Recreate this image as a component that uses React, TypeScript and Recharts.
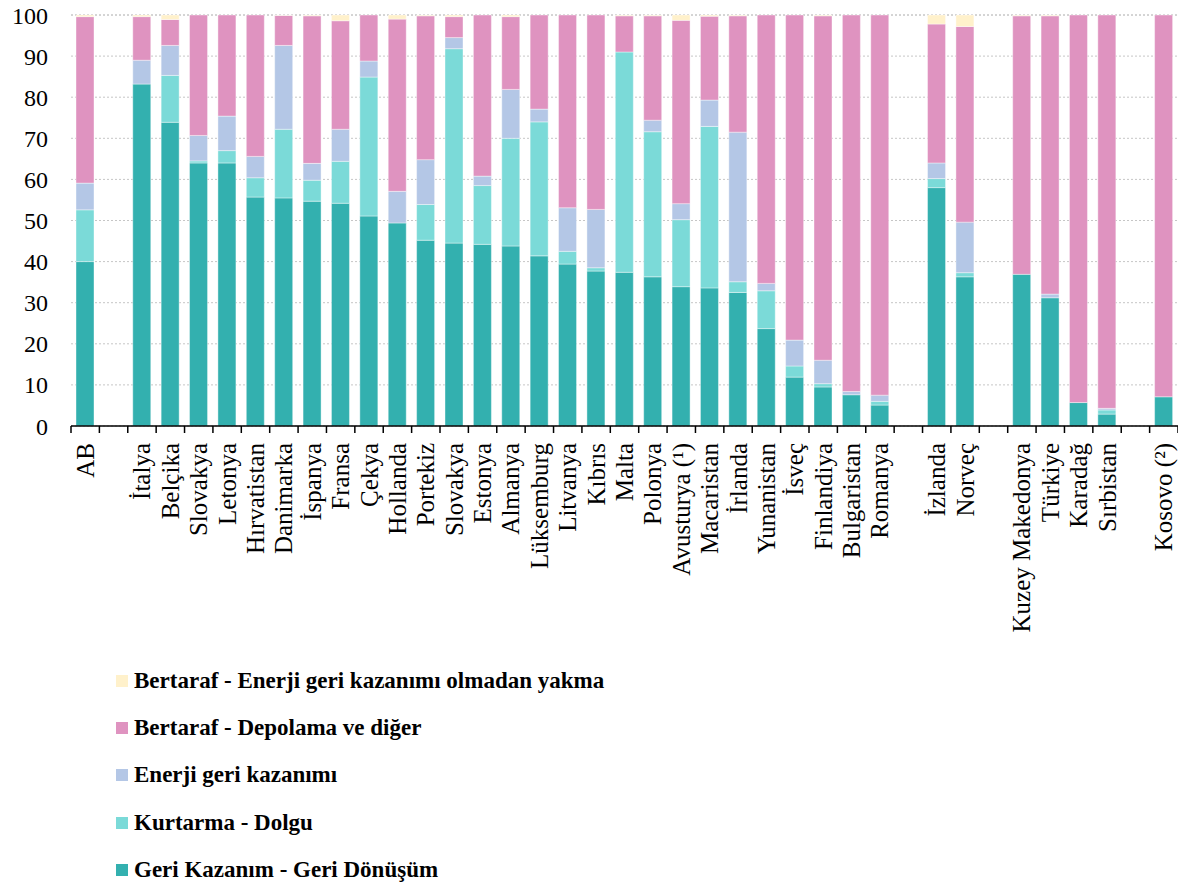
import React from 'react';
import { BarChart, Bar, XAxis, YAxis, CartesianGrid, Legend } from 'recharts';

const categories = [
  'AB', '', 'İtalya', 'Belçika', 'Slovakya', 'Letonya', 'Hırvatistan', 'Danimarka', 'İspanya',
  'Fransa', 'Çekya', 'Hollanda', 'Portekiz', 'Slovakya', 'Estonya', 'Almanya', 'Lüksemburg',
  'Litvanya', 'Kıbrıs', 'Malta', 'Polonya', 'Avusturya (¹)', 'Macaristan', 'İrlanda', 'Yunanistan',
  'İsveç', 'Finlandiya', 'Bulgaristan', 'Romanya', '', 'İzlanda', 'Norveç', '', 'Kuzey Makedonya',
  'Türkiye', 'Karadağ', 'Sırbistan', '', 'Kosovo (²)',
];

const recycling = [
  40.0, null, 83.2, 73.9, 64.0, 64.0, 55.7, 55.5, 54.7, 54.2, 51.1, 49.4, 45.2, 44.5, 44.2, 43.8,
  41.4, 39.4, 37.7, 37.4, 36.3, 33.9, 33.6, 32.5, 23.7, 11.9, 9.5, 7.6, 5.1, null, 58.0, 36.3, null,
  36.9, 31.2, 5.7, 2.9, null, 7.1,
];
const backfilling = [
  12.6, null, 0.0, 11.4, 0.5, 3.0, 4.7, 16.7, 5.1, 10.2, 33.8, 0.0, 8.7, 47.3, 14.3, 26.2, 32.6,
  3.1, 0.8, 53.6, 35.3, 16.3, 39.3, 2.6, 9.2, 2.7, 0.8, 0.0, 0.9, null, 2.2, 1.0, null, 0.0, 0.0,
  0.0, 1.0, null, 0.0,
];
const energyRecovery = [
  6.5, null, 5.8, 7.3, 6.2, 8.4, 5.2, 20.4, 4.1, 7.8, 3.9, 7.7, 10.9, 2.7, 2.3, 11.9, 3.1, 10.6,
  14.2, 0.0, 2.8, 3.9, 6.4, 36.4, 1.8, 6.3, 5.7, 0.8, 1.5, null, 3.8, 12.3, null, 0.0, 0.9, 0.0,
  0.4, null, 0.0,
];
const landfill = [
  40.5, null, 10.6, 6.3, 29.3, 24.6, 34.4, 7.3, 35.9, 26.4, 11.2, 41.9, 35.0, 5.1, 39.2, 17.7,
  22.9, 46.9, 47.3, 8.8, 25.4, 44.6, 20.4, 28.3, 65.3, 79.1, 83.8, 91.6, 92.5, null, 33.8, 47.6,
  null, 62.9, 67.7, 94.3, 95.7, null, 92.9,
];
const incineration = [
  0.4, null, 0.4, 1.1, 0.0, 0.0, 0.0, 0.1, 0.2, 1.4, 0.0, 1.0, 0.2, 0.4, 0.0, 0.4, 0.0, 0.0, 0.0,
  0.2, 0.2, 1.3, 0.3, 0.2, 0.0, 0.0, 0.2, 0.0, 0.0, null, 2.2, 2.8, null, 0.2, 0.2, 0.0, 0.0, null,
  0.0,
];

const yTicks = [0, 10, 20, 30, 40, 50, 60, 70, 80, 90, 100];

// bottom of the stack first
const series = [
  { key: 'recycling', name: 'Geri Kazanım - Geri Dönüşüm', color: '#33B0AF' },
  { key: 'backfilling', name: 'Kurtarma - Dolgu', color: '#7BDAD8' },
  { key: 'energyRecovery', name: 'Enerji geri kazanımı', color: '#B4C7E6' },
  { key: 'landfill', name: 'Bertaraf - Depolama ve diğer', color: '#DF93C0' },
  { key: 'incineration', name: 'Bertaraf - Enerji geri kazanımı olmadan yakma', color: '#FFF1CB' },
];

const data = categories.map((name, i) => ({
  name,
  recycling: recycling[i],
  backfilling: backfilling[i],
  energyRecovery: energyRecovery[i],
  landfill: landfill[i],
  incineration: incineration[i],
}));

const FONT = "'Liberation Serif', serif";
const CHART_W = 1186;
const CHART_H = 889;
const Y_AXIS_W = 71;
const MARGIN = { top: 15, right: 8, bottom: 0, left: 0 };
const BAND = (CHART_W - Y_AXIS_W - MARGIN.left - MARGIN.right) / categories.length;

// Excel-style ticks sit between categories, labels run bottom-to-top
function CountryTick(props: any) {
  const { x, y, payload, index } = props;
  const half = payload && payload.offset ? payload.offset : BAND / 2;
  const last = index === categories.length - 1;
  return (
    <g>
      <line x1={x - half} x2={x - half} y1={y} y2={y + 7} stroke="#000" strokeWidth={1.5} />
      {last && <line x1={x + half} x2={x + half} y1={y} y2={y + 7} stroke="#000" strokeWidth={1.5} />}
      {payload.value ? (
        <text
          x={x}
          y={y + 17}
          transform={`rotate(-90, ${x}, ${y + 17})`}
          textAnchor="end"
          dy="0.34em"
          fontFamily={FONT}
          fontSize={25}
          fill="#000"
        >
          {payload.value}
        </text>
      ) : null}
    </g>
  );
}

const seriesOrder = (key: string) => series.findIndex((s) => s.key === key);

// legend lists the top of the stack first
function LegendList(props: any) {
  const items = [...(props.payload || [])].sort((a: any, b: any) => seriesOrder(b.dataKey) - seriesOrder(a.dataKey));
  return (
    <div style={{ fontFamily: FONT, fontWeight: 'bold', fontSize: 23, color: '#000', whiteSpace: 'nowrap' }}>
      {items.map((it: any) => (
        <div key={it.value} style={{ display: 'flex', alignItems: 'center', height: 47.3 }}>
          <span style={{ width: 12, height: 12, background: it.color, display: 'inline-block', marginRight: 6 }} />
          <span>{it.value}</span>
        </div>
      ))}
    </div>
  );
}

export default function App() {
  return (
    <div style={{ width: CHART_W, height: CHART_H, marginTop: -8, marginLeft: -8, background: '#fff' }}>
      <BarChart width={CHART_W} height={CHART_H} data={data} margin={MARGIN} barSize={18}>
        <CartesianGrid vertical={false} stroke="#c6c6c6" strokeDasharray="2 2" />
        <XAxis
          dataKey="name"
          interval={0}
          height={463}
          tickLine={false}
          tickSize={0}
          tickMargin={0}
          axisLine={{ stroke: '#000', strokeWidth: 1.5 }}
          tick={<CountryTick />}
        />
        <YAxis
          width={Y_AXIS_W}
          domain={[0, 100]}
          ticks={yTicks}
          interval={0}
          axisLine={false}
          tickLine={false}
          tickSize={0}
          tickMargin={23}
          tick={{ fill: '#000', fontSize: 24, fontFamily: FONT }}
        />
        <Legend
          layout="vertical"
          align="center"
          verticalAlign="middle"
          wrapperStyle={{ top: 657, left: 116, width: 'auto' }}
          content={<LegendList />}
        />
        {series.map((s) => (
          <Bar
            key={s.key}
            dataKey={s.key}
            name={s.name}
            stackId="total"
            fill={s.color}
            stroke="#ffffff"
            strokeWidth={0.4}
            isAnimationActive={false}
          />
        ))}
      </BarChart>
    </div>
  );
}
